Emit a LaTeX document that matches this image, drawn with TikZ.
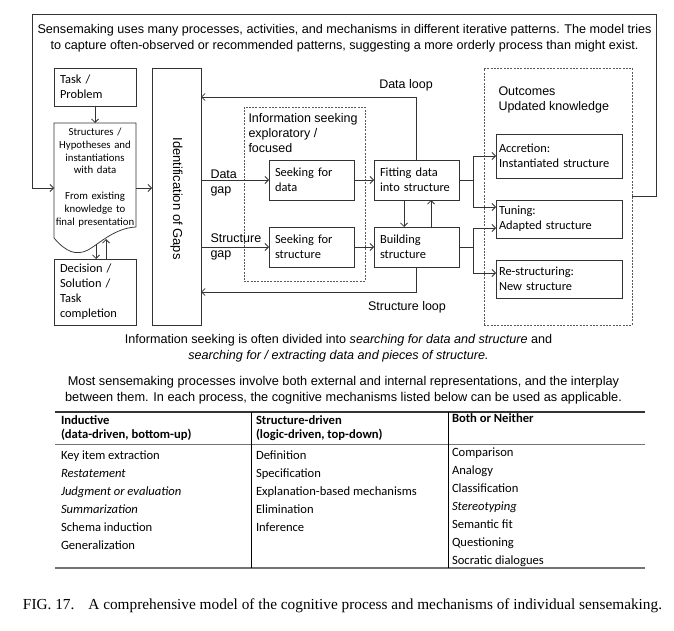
\documentclass[tikz,border=0pt]{standalone}
\usepackage{fontspec}
\setmainfont{Liberation Serif}
\newfontfamily\arialf{Liberation Sans}
\newfontfamily\calf{Carlito}
\usetikzlibrary{arrows.meta}
\definecolor{lc}{gray}{0.2}
\definecolor{dc}{gray}{0.35}
\begin{document}
\begin{tikzpicture}[x=1pt,y=-1pt,
  every node/.style={inner sep=0pt, outer sep=0pt},
  ln/.style={draw=lc, line width=0.75pt},
  arr/.style={ln, -{Straight Barb[length=3.5pt,width=7pt]}},
  dbox/.style={draw=dc, line width=0.7pt, dash pattern=on 2pt off 1.3pt},
  sans/.style={font=\arialf\fontsize{12.5}{15}\selectfont},
  cal/.style={font=\calf\fontsize{12.4}{15}\selectfont},
  pbox/.style={ln, cal, align=left, anchor=center, inner xsep=6pt},
  tabtxt/.style={font=\calf\fontsize{12.6}{18}\selectfont, align=left, anchor=west},
  tabhd/.style={font=\calf\bfseries\fontsize{12.6}{14.5}\selectfont, align=left, anchor=west},
  trule/.style={draw=black!80, line width=1.2pt},
  grule/.style={draw=black!55, line width=1.3pt},
  vrule/.style={draw=black, line width=0.7pt}
]
\useasboundingbox (0,0) rectangle (674,631);
\fill[white] (0,0) rectangle (674,631);

% top text
\node[font=\arialf\fontsize{12.62}{16}\selectfont, align=center] (toptxt) at (344.5,38) {Sensemaking uses many processes, activities, and mechanisms in different iterative patterns. The model tries\\to capture often-observed or recommended patterns, suggesting a more orderly process than might exist.};

% left column
\node[pbox, minimum width=82pt, minimum height=38pt, text width=70pt] (task) at (95,87) {Task /\\Problem};
\node[font=\calf\fontsize{10.8}{12.9}\selectfont, align=center, text width=82pt] (doc) at (95,177.5) {Structures /\\Hypotheses and\\instantiations\\with data\\[12.9pt]From existing\\knowledge to\\final presentation};
\draw[ln] (54,238) -- (54,123) -- (136,123) -- (136,227)
  .. controls (115,228) and (100,243) .. (88,250)
  .. controls (76,256) and (66,252) .. (54,238);
\coordinate (docT) at (95,123);
\coordinate (docW) at (54,188);
\coordinate (docE) at (136,188);
\coordinate (docB1) at (96,244);
\coordinate (docB2) at (106,239);
\node[pbox, minimum width=82pt, minimum height=66pt, text width=70pt] (dec) at (95,292) {Decision /\\Solution /\\Task\\completion};

% identification
\node[ln, minimum width=49pt, minimum height=257pt] (ident) at (176.5,196.5) {};
\node[font=\arialf\fontsize{13}{15}\selectfont, rotate=-90] (identtxt) at (176.5,198.5) {Identification of Gaps};

% information seeking
\node[dbox, minimum width=121pt, minimum height=174pt] (info) at (304.5,194) {};
\node[sans, align=left, anchor=west] (infotxt) at (248.5,133.5) {Information seeking\\exploratory /\\focused};
\node[pbox, minimum width=85pt, minimum height=40pt, text width=73pt] (sdata) at (311.5,180) {Seeking for\\data};
\node[pbox, minimum width=85pt, minimum height=40pt, text width=73pt] (sstr) at (311.5,247) {Seeking for\\structure};
\node[pbox, minimum width=85pt, minimum height=40pt, text width=73pt] (fit) at (416.5,180) {Fitting data\\into structure};
\node[pbox, minimum width=85pt, minimum height=40pt, text width=73pt] (build) at (416.5,247) {Building\\structure};

\node[sans, align=left, anchor=west] (dgap) at (210.5,183) {Data\\gap};
\node[sans, align=left, anchor=west] (sgap) at (210.5,247.3) {Structure\\gap};
\node[sans] (dloop) at (406,85) {Data loop};
\node[sans] (sloop) at (407,307) {Structure loop};

% outcomes
\node[dbox, minimum width=148pt, minimum height=257pt] (outc) at (558,196.5) {};
\node[sans, align=left, anchor=west] (outctxt) at (498.5,99.7) {Outcomes\\Updated knowledge};
\node[pbox, minimum width=126pt, minimum height=44pt, text width=120pt, inner xsep=3pt] (accr) at (559,156) {Accretion:\\Instantiated structure};
\node[pbox, minimum width=126pt, minimum height=38pt, text width=120pt, inner xsep=3pt] (tun) at (559,219) {Tuning:\\Adapted structure};
\node[pbox, minimum width=126pt, minimum height=38pt, text width=120pt, inner xsep=3pt] (res) at (559,279) {Re-structuring:\\New structure};

% connectors
\draw[arr] (task.south) -- (docT);
\draw[arr] (docE) -- (ident.west |- docE);
\draw[arr] (docB1) -- (dec.north -| docB1);
\draw[arr] (dec.north -| docB2) -- (docB2);
\draw[arr] (ident.east |- sdata.west) -- (sdata.west);
\draw[arr] (ident.east |- sstr.west) -- (sstr.west);
\draw[arr] (sdata.east) -- (fit.west);
\draw[arr] (sstr.east) -- (build.west);
\draw[arr] ([xshift=-12.5pt]fit.south) -- ([xshift=-12.5pt]build.north);
\draw[arr] ([xshift=14.5pt]build.north) -- ([xshift=14.5pt]fit.south);
\draw[arr] (fit.north) |- ([yshift=99.5pt]ident.east);
\draw[arr] (build.south) |- ([yshift=-95.5pt]ident.east);
\draw[ln] (fit.east) -- ++(14,0) coordinate (fj);
\draw[arr] (fj) |- (accr.west);
\draw[arr] (fj) |- ([yshift=12pt]tun.west);
\draw[ln] (build.east) -- ++(14,0) coordinate (bj);
\draw[arr] (bj) |- ([yshift=-9pt]tun.west);
\draw[arr] (bj) |- ([yshift=6pt]res.west);
\draw[arr] (outc.east) -- (656,196.5) -- (656,14) -- (32,14) -- (32,188) -- (docW);

% middle texts
\node[font=\arialf\fontsize{12.6}{16}\selectfont, align=center] (cap1) at (338.5,348) {Information seeking is often divided into \textit{searching for data and structure} and\\\textit{searching for / extracting data and pieces of structure.}};
\node[font=\arialf\fontsize{12.75}{16}\selectfont, align=center] (cap2) at (343.5,390) {Most sensemaking processes involve both external and internal representations, and the interplay\\between them. In each process, the cognitive mechanisms listed below can be used as applicable.};

% table
\draw[trule] (55,412) -- (645,412);
\draw[grule] (55,444.5) -- (645,444.5);
\draw[grule] (55,568) -- (645,568);
\draw[vrule] (251,412) -- (251,568);
\draw[vrule] (448,412) -- (448,568);
\node[tabhd] (h1) at (61,428) {Inductive\\(data-driven, bottom-up)};
\node[tabhd] (h2) at (256,428) {Structure-driven\\(logic-driven, top-down)};
\node[tabhd] (h3) at (452,418) {Both or Neither};
\node[tabtxt] (c1) at (61,500.5) {Key item extraction\\\textit{Restatement}\\\textit{Judgment or evaluation}\\\textit{Summarization}\\Schema induction\\Generalization};
\node[tabtxt] (c2) at (256,491.5) {Definition\\Specification\\Explanation-based mechanisms\\Elimination\\Inference};
\node[tabtxt] (c3) at (452,507.5) {Comparison\\Analogy\\Classification\\\textit{Stereotyping}\\Semantic fit\\Questioning\\Socratic dialogues};

% caption
\node[font=\fontsize{15.3}{18}\selectfont, anchor=west] (fig) at (23,606) {FIG. 17.\hspace{14pt}A comprehensive model of the cognitive process and mechanisms of individual sensemaking.};
\end{tikzpicture}
\end{document}
